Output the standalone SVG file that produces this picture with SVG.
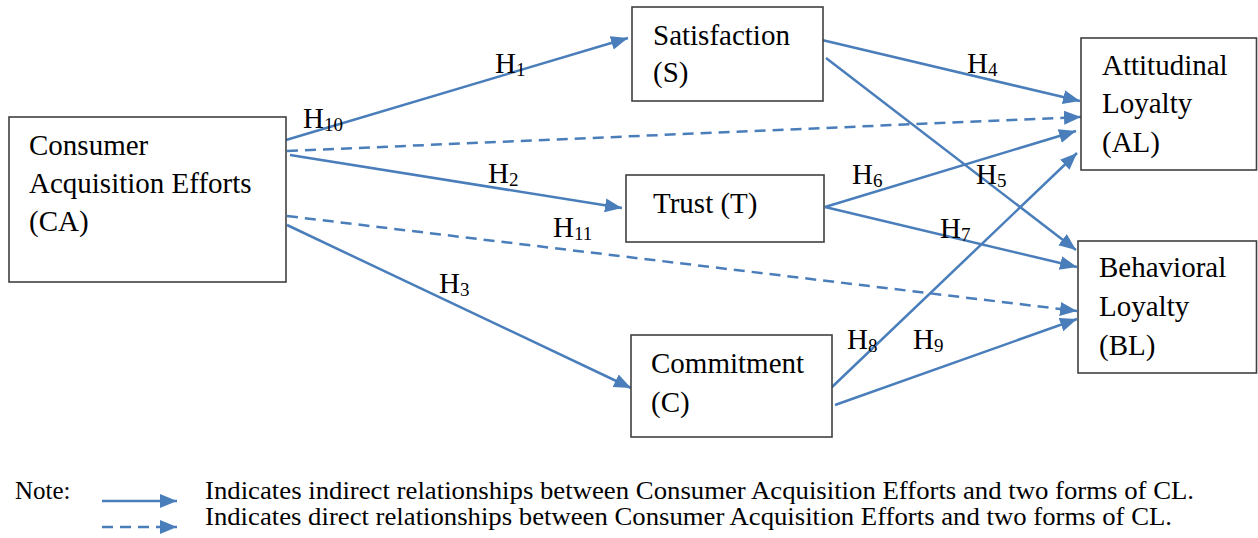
<svg xmlns="http://www.w3.org/2000/svg" width="1258" height="538" viewBox="0 0 1258 538">
<style>
.box{fill:#fff;stroke:#404040;stroke-width:1.6}
.t{font-family:"Liberation Serif","Times New Roman",serif;font-size:29px;fill:#000}
.h{font-family:"Liberation Serif","Times New Roman",serif;font-size:29px;fill:#000}
.sub{font-size:19px}
.c{fill:none;stroke:#4a7ebb;stroke-width:2.5}
.d{stroke-dasharray:11 7}
.n{font-family:"Liberation Serif","Times New Roman",serif;font-size:25px;fill:#000}
</style>
<defs>
<marker id="ah" markerUnits="userSpaceOnUse" markerWidth="20" markerHeight="16" refX="17" refY="7" orient="auto">
<path d="M0,0 L17,7 L0,14 Z" fill="#4a7ebb"/>
</marker>
</defs>
<rect width="1258" height="538" fill="#fff"/>
<g id="connectors">
<path class="c" d="M286,140 L628,38" marker-end="url(#ah)"/>
<path class="c d" d="M287,151 L1081,117" marker-end="url(#ah)"/>
<path class="c" d="M290,155 L622,208" marker-end="url(#ah)"/>
<path class="c d" d="M287,216 L1077,311" marker-end="url(#ah)"/>
<path class="c" d="M287,225 L631,388" marker-end="url(#ah)"/>
<path class="c" d="M822,40 L1080,101" marker-end="url(#ah)"/>
<path class="c" d="M826,58 L1076,250" marker-end="url(#ah)"/>
<path class="c" d="M825,207 L1076,131" marker-end="url(#ah)"/>
<path class="c" d="M825,207 L1077,267" marker-end="url(#ah)"/>
<path class="c" d="M831,388 L1077,153" marker-end="url(#ah)"/>
<path class="c" d="M835,405 L1077,319" marker-end="url(#ah)"/>
</g>
<g id="labels">
<text class="h" x="303" y="128">H<tspan class="sub" dy="3">10</tspan></text>
<text class="h" x="495" y="73">H<tspan class="sub" dy="3">1</tspan></text>
<text class="h" x="488" y="183">H<tspan class="sub" dy="3">2</tspan></text>
<text class="h" x="553" y="237">H<tspan class="sub" dy="3">11</tspan></text>
<text class="h" x="439" y="293">H<tspan class="sub" dy="3">3</tspan></text>
<text class="h" x="967" y="73">H<tspan class="sub" dy="3">4</tspan></text>
<text class="h" x="976" y="184">H<tspan class="sub" dy="3">5</tspan></text>
<text class="h" x="852" y="184">H<tspan class="sub" dy="3">6</tspan></text>
<text class="h" x="940" y="238">H<tspan class="sub" dy="3">7</tspan></text>
<text class="h" x="847" y="349">H<tspan class="sub" dy="3">8</tspan></text>
<text class="h" x="913" y="349">H<tspan class="sub" dy="3">9</tspan></text>
</g>
<g id="CA">
<rect class="box" x="9" y="117" width="277" height="165"/>
<text class="t" x="29" y="155">Consumer</text>
<text class="t" x="29" y="193">Acquisition Efforts</text>
<text class="t" x="29" y="231">(CA)</text>
</g>
<g id="S">
<rect class="box" x="632" y="7" width="191" height="94"/>
<text class="t" x="653" y="45">Satisfaction</text>
<text class="t" x="653" y="82">(S)</text>
</g>
<g id="T">
<rect class="box" x="626" y="175" width="198" height="67"/>
<text class="t" x="653" y="213">Trust (T)</text>
</g>
<g id="C">
<rect class="box" x="631" y="335" width="201" height="102"/>
<text class="t" x="651" y="373">Commitment</text>
<text class="t" x="651" y="412">(C)</text>
</g>
<g id="AL">
<rect class="box" x="1081" y="38" width="175.5" height="132"/>
<text class="t" x="1102" y="75">Attitudinal</text>
<text class="t" x="1102" y="113">Loyalty</text>
<text class="t" x="1102" y="152">(AL)</text>
</g>
<g id="BL">
<rect class="box" x="1078" y="241" width="178.5" height="132"/>
<text class="t" x="1099" y="277">Behavioral</text>
<text class="t" x="1099" y="316">Loyalty</text>
<text class="t" x="1099" y="355">(BL)</text>
</g>
<g id="legend">
<text class="n" x="15" y="499">Note:</text>
<path class="c" d="M102,501 L177,501" marker-end="url(#ah)"/>
<path class="c d" d="M102,527 L177,527" marker-end="url(#ah)"/>
<text class="n" x="205" y="499" textLength="989" lengthAdjust="spacingAndGlyphs">Indicates indirect relationships between Consumer Acquisition Efforts and two forms of CL.</text>
<text class="n" x="205" y="525" textLength="967" lengthAdjust="spacingAndGlyphs">Indicates direct relationships between Consumer Acquisition Efforts and two forms of CL.</text>
</g>
</svg>
